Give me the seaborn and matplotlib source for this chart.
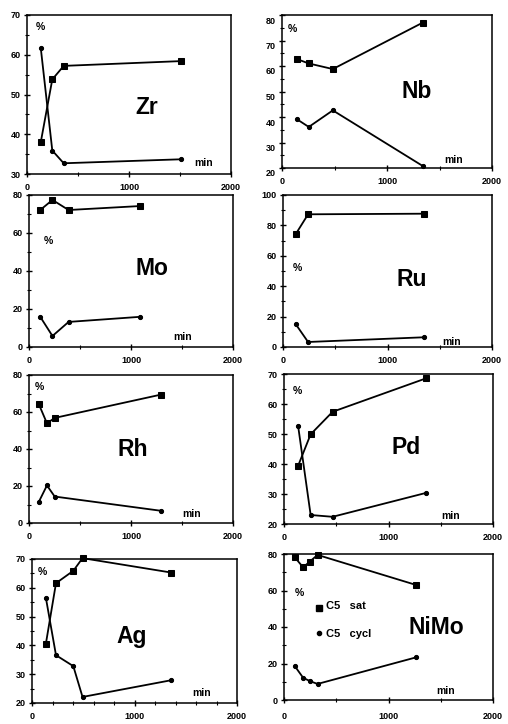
import matplotlib
matplotlib.use("Agg")
import matplotlib.pyplot as plt
import matplotlib.transforms as mtransforms
from matplotlib.ticker import MultipleLocator
import seaborn as sns
import pandas as pd

sns.set_style("ticks")
plt.rcParams["font.family"] = ["Liberation Sans", "DejaVu Sans"]
plt.rcParams["text.color"] = "black"
plt.rcParams["xtick.color"] = "black"
plt.rcParams["ytick.color"] = "black"
plt.rcParams["axes.labelcolor"] = "black"

# ---- data (time in min, % products) ----
zr_t = [135, 248, 360, 1508]
zr_sat = [38.0, 53.8, 57.2, 58.4]
zr_cyc = [61.7, 35.9, 32.7, 33.7]

nb_t = [143, 255, 484, 1340]
nb_sat = [62.7, 61.0, 58.8, 77.0]
nb_cyc = [39.1, 36.1, 42.6, 20.8]

mo_t = [110, 230, 388, 1093]
mo_sat = [72.1, 77.4, 72.1, 74.2]
mo_cyc = [15.9, 5.8, 13.2, 15.9]

ru_t = [122, 240, 1350]
ru_sat = [74.3, 87.3, 87.7]
ru_cyc = [15.0, 3.3, 6.4]

rh_t = [95, 176, 252, 1294]
rh_sat = [64.4, 53.9, 56.8, 69.4]
rh_cyc = [11.3, 20.3, 14.3, 6.6]

pd_t = [135, 255, 465, 1363]
pd_sat = [39.4, 49.9, 57.4, 68.6]
pd_cyc = [52.7, 23.0, 22.4, 30.4]

ag_t = [135, 234, 403, 493, 1357]
ag_sat = [40.5, 61.6, 65.9, 70.3, 65.3]
ag_cyc = [56.6, 36.6, 32.8, 22.1, 27.9]

nimo_t = [103, 183, 246, 321, 1266]
nimo_sat = [78.2, 72.7, 75.8, 79.5, 63.0]
nimo_cyc = [18.6, 12.2, 10.4, 8.8, 23.4]

names = ["Zr", "Nb", "Mo", "Ru", "Rh", "Pd", "Ag", "NiMo"]
times = [zr_t, nb_t, mo_t, ru_t, rh_t, pd_t, ag_t, nimo_t]
sats = [zr_sat, nb_sat, mo_sat, ru_sat, rh_sat, pd_sat, ag_sat, nimo_sat]
cycs = [zr_cyc, nb_cyc, mo_cyc, ru_cyc, rh_cyc, pd_cyc, ag_cyc, nimo_cyc]
ylims = [(30, 70), (20, 80), (0, 80), (0, 100), (0, 80), (20, 70), (20, 70), (0, 80)]
ysteps = [10, 10, 20, 20, 20, 10, 10, 20]
xticks = [0, 1000, 2000]
sat_label = "C5   sat"
cyc_label = "C5   cycl"

# ---- layout in pixels (left, top, right, bottom) ----
W, H = 508, 724
boxes = [(27, 15, 231, 174), (282, 15, 492, 168),
         (29, 195, 233, 347), (283, 195, 492, 347),
         (29, 375, 233, 523), (284, 374, 493, 524),
         (32, 559, 237, 703), (284, 554, 493, 700)]
pct_pos = [(40, 27), (292, 29), (48, 241), (297, 268),
           (39, 387), (297, 391), (42, 572), (299, 593)]
name_pos = [(147, 108), (417, 91), (152, 268), (412, 280),
            (133, 450), (406, 448), (132, 637), (436, 627)]
min_pos = [(204, 163), (454, 160), (183, 337), (452, 342),
           (192, 514), (451, 516), (202, 693), (446, 691)]
xpads = [4, 4, 4, 4, 4, 4, 4, 6]

fig = plt.figure(figsize=(W / 100, H / 100), dpi=100)
fig.patch.set_facecolor("white")


def fx(x):
    return x / W


def fy(y):
    return 1 - y / H


for i, name in enumerate(names):
    l, t, r, b = boxes[i]
    ax = fig.add_axes([fx(l), fy(b), (r - l) / W, (b - t) / H])
    ax.set_facecolor("white")
    df = pd.DataFrame({"t": times[i], "sat": sats[i], "cyc": cycs[i]})
    sns.lineplot(data=df, x="t", y="sat", ax=ax, color="k", lw=1.3,
                 marker="s", markersize=4.0, markeredgecolor="k",
                 markerfacecolor="k", sort=False, clip_on=False)
    sns.lineplot(data=df, x="t", y="cyc", ax=ax, color="k", lw=1.3,
                 marker="o", markersize=3.0, markeredgecolor="k",
                 markerfacecolor="k", sort=False, clip_on=False)
    ax.set_xlim(0, 2000)
    ax.set_ylim(*ylims[i])
    ax.set_xticks(xticks)
    ax.xaxis.set_minor_locator(MultipleLocator(200 if name == "Ag" else 500))
    ax.yaxis.set_major_locator(MultipleLocator(ysteps[i]))
    ax.yaxis.set_minor_locator(MultipleLocator(ysteps[i] / 2))
    ax.set_xlabel("")
    ax.set_ylabel("")
    for s in ax.spines.values():
        s.set_linewidth(1.1)
        s.set_color("k")
    ax.tick_params(which="major", direction="inout", length=5, width=1.0,
                   labelsize=6.5, pad=2, colors="k")
    ax.tick_params(which="minor", direction="inout", length=3, width=0.8,
                   colors="k")
    ax.tick_params(axis="x", pad=xpads[i])
    for lab in ax.get_xticklabels() + ax.get_yticklabels():
        lab.set_fontweight("bold")
        lab.set_color("black")
    if name == "Nb":
        off = mtransforms.ScaledTranslation(0, -5 / 100, fig.dpi_scale_trans)
        for lab in ax.get_yticklabels():
            lab.set_transform(lab.get_transform() + off)

    fig.text(fx(pct_pos[i][0]), fy(pct_pos[i][1]), "%", ha="center", va="center",
             fontsize=7.5, fontweight="bold", color="black")
    fig.text(fx(name_pos[i][0]), fy(name_pos[i][1]), name, ha="center", va="center",
             fontsize=16.5, fontweight="bold", color="black")
    fig.text(fx(min_pos[i][0]), fy(min_pos[i][1]), "min", ha="center", va="center",
             fontsize=7.5, fontweight="bold", color="black")

    if name == "NiMo":
        fig.lines.append(plt.Line2D([fx(319)], [fy(608)], marker="s", color="k",
                                    markersize=4.0, transform=fig.transFigure))
        fig.lines.append(plt.Line2D([fx(319)], [fy(633)], marker="o", color="k",
                                    markersize=3.0, transform=fig.transFigure))
        fig.text(fx(326), fy(606), sat_label, ha="left", va="center",
                 fontsize=8, fontweight="bold", color="black")
        fig.text(fx(326), fy(634), cyc_label, ha="left", va="center",
                 fontsize=8, fontweight="bold", color="black")

fig.savefig("out.png", dpi=100, facecolor="white")
